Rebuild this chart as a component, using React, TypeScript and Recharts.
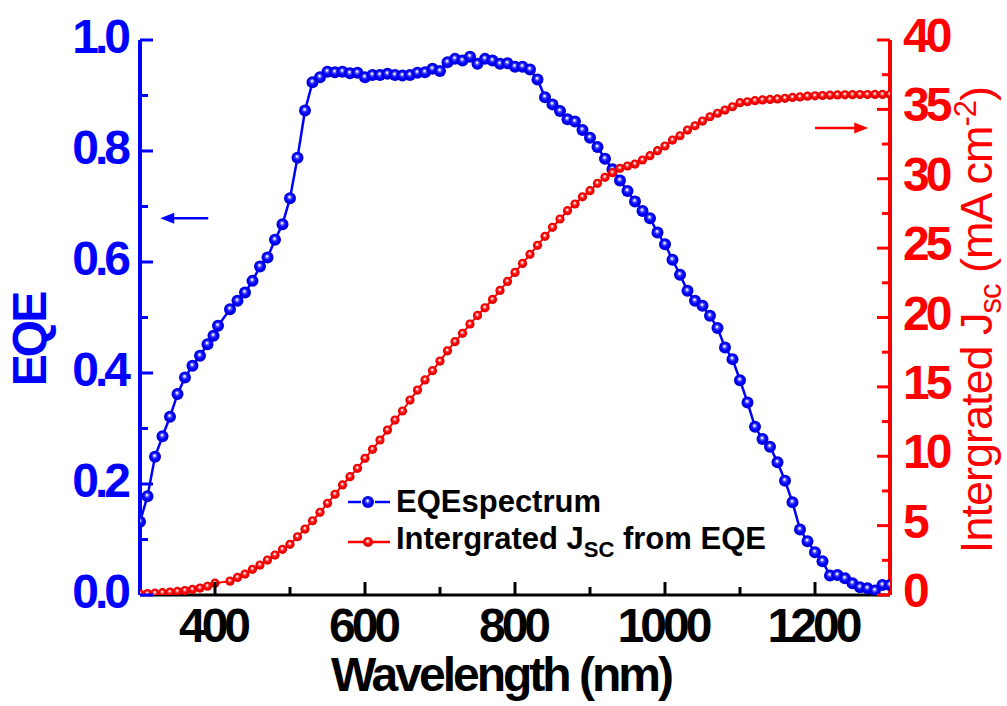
import React from 'react';
import { LineChart, Line, XAxis, YAxis, ReferenceLine, Legend, Label } from 'recharts';

// ---------- data ----------
const eqeWavelengths = [
  300, 310, 320, 330, 340, 350, 360, 370, 380, 390, 398, 404, 420, 430, 440, 450, 460, 470, 480, 490,
  500, 510, 520, 530, 540, 550, 560, 570, 580, 590, 600, 610, 620, 630, 640, 650, 660, 670, 680, 690,
  700, 710, 720, 730, 740, 750, 760, 770, 780, 790, 800, 810, 820, 830, 840, 850, 860, 870, 880, 890,
  900, 910, 920, 930, 940, 950, 960, 970, 980, 990, 1000, 1010, 1020, 1030, 1040, 1050, 1060, 1070, 1080, 1090,
  1100, 1110, 1120, 1130, 1140, 1150, 1160, 1170, 1180, 1190, 1200, 1210, 1220, 1230, 1240, 1250, 1260, 1270, 1280, 1290, 1300,
];
const eqeValues = [
  0.132, 0.178, 0.249, 0.286, 0.321, 0.362, 0.392, 0.413, 0.431, 0.452, 0.467, 0.485, 0.515, 0.530, 0.545, 0.566, 0.592, 0.608, 0.640, 0.668,
  0.715, 0.788, 0.873, 0.924, 0.933, 0.943, 0.942, 0.943, 0.940, 0.941, 0.933, 0.937, 0.937, 0.939, 0.937, 0.936, 0.937, 0.941, 0.942, 0.948,
  0.944, 0.960, 0.966, 0.963, 0.970, 0.957, 0.966, 0.963, 0.957, 0.958, 0.952, 0.952, 0.947, 0.929, 0.897, 0.884, 0.872, 0.857, 0.853, 0.838,
  0.824, 0.807, 0.786, 0.767, 0.747, 0.728, 0.709, 0.692, 0.679, 0.653, 0.632, 0.604, 0.577, 0.548, 0.530, 0.521, 0.503, 0.481, 0.446, 0.425,
  0.387, 0.347, 0.303, 0.281, 0.267, 0.239, 0.206, 0.167, 0.118, 0.097, 0.077, 0.061, 0.035, 0.036, 0.030, 0.021, 0.014, 0.012, 0.008, 0.018, 0.018,
];

const jscWavelengths = [
  300, 310, 320, 330, 340, 350, 360, 370, 380, 390, 400, 420, 430, 440, 450, 460, 470, 480, 490,
  500, 510, 520, 530, 540, 550, 560, 570, 580, 590, 600, 610, 620, 630, 640, 650, 660, 670, 680, 690,
  700, 710, 720, 730, 740, 750, 760, 770, 780, 790, 800, 810, 820, 830, 840, 850, 860, 870, 880, 890,
  900, 910, 920, 930, 940, 950, 960, 970, 980, 990, 1000, 1010, 1020, 1030, 1040, 1050, 1060, 1070, 1080, 1090,
  1100, 1110, 1120, 1130, 1140, 1150, 1160, 1170, 1180, 1190, 1200, 1210, 1220, 1230, 1240, 1250, 1260, 1270, 1280, 1290, 1300,
];
const jscValues = [
  0.08, 0.1, 0.13, 0.17, 0.21, 0.26, 0.32, 0.4, 0.5, 0.63, 0.85, 1.0, 1.27, 1.51, 1.85, 2.16, 2.52, 2.88, 3.29,
  3.65, 4.2, 4.75, 5.35, 5.96, 6.61, 7.26, 7.93, 8.53, 9.13, 9.85, 10.5, 11.17, 11.89, 12.61, 13.26, 14.05, 14.77, 15.5, 16.17,
  16.86, 17.6, 18.26, 18.86, 19.53, 20.15, 20.7, 21.3, 21.95, 22.6, 23.25, 23.9, 24.55, 25.2, 25.85, 26.5, 27.1, 27.7, 28.18, 28.7,
  29.14, 29.67, 30.1, 30.44, 30.75, 30.92, 31.06, 31.35, 31.66, 32.02, 32.36, 32.79, 33.1, 33.51, 33.82, 34.16, 34.47, 34.72, 34.95, 35.19,
  35.48, 35.55, 35.63, 35.68, 35.72, 35.75, 35.8, 35.86, 35.9, 35.95, 35.98, 36.0, 36.02, 36.04, 36.05, 36.06, 36.07, 36.07, 36.08, 36.08, 36.08,
];

const xDomain = [300, 1300];
const xTicks = [400, 500, 600, 700, 800, 900, 1000, 1100, 1200];
const xLabelTicks = [400, 600, 800, 1000, 1200];
const eqeDomain = [0, 1];
const eqeTicks = [0, 0.1, 0.2, 0.3, 0.4, 0.5, 0.6, 0.7, 0.8, 0.9, 1.0];
const eqeLabelTicks = [0, 0.2, 0.4, 0.6, 0.8, 1.0];
const jscDomain = [0, 40];
const jscTicks = [0, 2.5, 5, 7.5, 10, 12.5, 15, 17.5, 20, 22.5, 25, 27.5, 30, 32.5, 35, 37.5, 40];
const jscLabelTicks = [0, 5, 10, 15, 20, 25, 30, 35, 40];

// annotation arrows (data coordinates)
const blueArrow = { from: 391, to: 327, y: 0.679 };
const redArrow = { from: 1200, to: 1271, y: 33.66 };

const eqeData = eqeWavelengths.map((wl, i) => ({ wl, eqe: eqeValues[i] }));
const jscData = jscWavelengths.map((wl, i) => ({ wl, jsc: jscValues[i] }));

// ---------- styles ----------
const FONT = '"Liberation Sans", Arial, Helvetica, sans-serif';
const BLUE = '#0000ff';
const RED = '#ff0000';

const has = (arr: number[], v: number) => arr.some((a) => Math.abs(a - v) < 1e-6);

function LeftTick(props: any) {
  const { x, y, payload } = props;
  const v = payload.value;
  const major = has(eqeLabelTicks, v);
  return (
    <g>
      <line x1={x} x2={x + (major ? 13 : 8)} y1={y} y2={y} stroke={BLUE} strokeWidth={3} />
      {major && (
        <text x={x - 13} y={y + 13} textAnchor="end" fill={BLUE} fontSize={48} fontWeight="bold" letterSpacing={-4} fontFamily={FONT}>
          {v.toFixed(1)}
        </text>
      )}
    </g>
  );
}

function RightTick(props: any) {
  const { x, y, payload } = props;
  const v = payload.value;
  const major = has(jscLabelTicks, v);
  return (
    <g>
      <line x1={x} x2={x - (major ? 13 : 8)} y1={y} y2={y} stroke={RED} strokeWidth={3} />
      {major && (
        <text x={x + 13} y={y + 12} textAnchor="start" fill={RED} fontSize={48} fontWeight="bold" letterSpacing={-4} fontFamily={FONT}>
          {String(v)}
        </text>
      )}
    </g>
  );
}

function BottomTick(props: any) {
  const { x, y, payload } = props;
  const v = payload.value;
  const major = has(xLabelTicks, v);
  return (
    <g>
      <line x1={x} x2={x} y1={y} y2={y - (major ? 13 : 8)} stroke="#000" strokeWidth={3} />
      {major && (
        <text x={x - 2} y={y + 47} textAnchor="middle" fill="#000" fontSize={48} fontWeight="bold" letterSpacing={-4} fontFamily={FONT}>
          {String(v)}
        </text>
      )}
    </g>
  );
}

function TopTick(props: any) {
  const { x, y } = props;
  return <line x1={x} x2={x} y1={y} y2={y + 4} stroke="#000" strokeWidth={2} />;
}

function BlueDot(props: any) {
  const { cx, cy, index } = props;
  if (cx == null || cy == null) return <g key={`b${index}`} />;
  return <circle key={`b${index}`} cx={cx} cy={cy} r={6} fill="url(#sphereBlue)" />;
}

function RedDot(props: any) {
  const { cx, cy, index } = props;
  if (cx == null || cy == null) return <g key={`r${index}`} />;
  return <circle key={`r${index}`} cx={cx} cy={cy} r={4.6} fill="url(#sphereRed)" />;
}

const arrowShape = (color: string) => (p: any) => {
  const { x1, y1, x2, y2 } = p;
  const dir = Math.sign(x2 - x1) || 1;
  return (
    <g>
      <line x1={x1} y1={y1} x2={x2 - dir * 10} y2={y2} stroke={color} strokeWidth={2.5} />
      <polygon points={`${x2},${y2} ${x2 - dir * 14},${y2 - 5.5} ${x2 - dir * 14},${y2 + 5.5}`} fill={color} />
    </g>
  );
};

function LegendContent() {
  const row: React.CSSProperties = { display: 'flex', alignItems: 'center', height: 40, whiteSpace: 'nowrap' };
  return (
    <div style={{ fontFamily: FONT, fontWeight: 'bold', fontSize: 31, color: '#000' }}>
      <div style={row}>
        <svg width={48} height={20} style={{ marginRight: 2 }}>
          <line x1={2} x2={15} y1={10} y2={10} stroke={BLUE} strokeWidth={2.5} />
          <line x1={29} x2={44} y1={10} y2={10} stroke={BLUE} strokeWidth={2.5} />
          <circle cx={22} cy={10} r={6} fill="url(#sphereBlue)" />
        </svg>
        <span>EQEspectrum</span>
      </div>
      <div style={row}>
        <svg width={48} height={20} style={{ marginRight: 2 }}>
          <line x1={2} x2={44} y1={10} y2={10} stroke={RED} strokeWidth={2.5} />
          <circle cx={22} cy={10} r={5} fill="url(#sphereRed)" />
        </svg>
        <span>
          Intergrated J<sub style={{ fontSize: 22, verticalAlign: -8 }}>SC</sub> from EQE
        </span>
      </div>
    </div>
  );
}

export default function App() {
  return (
    <div style={{ position: 'absolute', left: 0, top: 0, width: 1007, height: 706, background: '#fff' }}>
      <svg width={0} height={0} style={{ position: 'absolute' }}>
        <defs>
          <radialGradient id="sphereBlue" cx="50%" cy="50%" r="50%" fx="45%" fy="38%">
            <stop offset="0%" stopColor="#ffffff" />
            <stop offset="14%" stopColor="#d4d4ff" />
            <stop offset="32%" stopColor="#4a4aff" />
            <stop offset="60%" stopColor="#0000ff" />
            <stop offset="100%" stopColor="#0000d0" />
          </radialGradient>
          <radialGradient id="sphereRed" cx="50%" cy="50%" r="50%" fx="45%" fy="38%">
            <stop offset="0%" stopColor="#ffffff" />
            <stop offset="16%" stopColor="#ffd4d4" />
            <stop offset="34%" stopColor="#ff4a4a" />
            <stop offset="60%" stopColor="#ff0000" />
            <stop offset="100%" stopColor="#d80000" />
          </radialGradient>
        </defs>
      </svg>
      <LineChart width={1007} height={706} margin={{ top: 40, right: 0, bottom: 0, left: 0 }} style={{ fontFamily: FONT }}>
        <XAxis
          xAxisId="bottom"
          dataKey="wl"
          type="number"
          domain={xDomain}
          ticks={xTicks}
          allowDataOverflow
          height={111}
          tickSize={0}
          tickMargin={0}
          tickLine={false}
          tick={<BottomTick />}
          axisLine={{ stroke: '#000', strokeWidth: 3 }}
          interval={0}
        >
          <Label
            content={(p: any) => {
              const vb = p.viewBox || { x: 140, y: 595 };
              return (
                <text x={vb.x + 361} y={vb.y + 96} textAnchor="middle" fontSize={48} fontWeight="bold" letterSpacing={-3} fill="#000" fontFamily={FONT}>
                  Wavelength (nm)
                </text>
              );
            }}
          />
        </XAxis>
        <XAxis
          xAxisId="top"
          orientation="top"
          dataKey="wl"
          type="number"
          domain={xDomain}
          ticks={xTicks}
          allowDataOverflow
          height={0}
          tickSize={0}
          tickMargin={0}
          tickLine={false}
          tick={<TopTick />}
          axisLine={{ stroke: '#000', strokeWidth: 2.5 }}
          interval={0}
        />
        <YAxis
          yAxisId="left"
          type="number"
          domain={eqeDomain}
          ticks={eqeTicks}
          allowDataOverflow
          width={140}
          tickSize={0}
          tickMargin={0}
          tickLine={false}
          tick={<LeftTick />}
          axisLine={{ stroke: BLUE, strokeWidth: 4 }}
          interval={0}
        >
          <Label
            content={(p: any) => {
              const vb = p.viewBox || { x: 0, y: 40 };
              const x = vb.x + 46;
              const y = vb.y + 300;
              return (
                <text x={x} y={y} transform={`rotate(-90, ${x}, ${y})`} textAnchor="middle" fontSize={48} fontWeight="bold" letterSpacing={-3} fill={BLUE} fontFamily={FONT}>
                  EQE
                </text>
              );
            }}
          />
        </YAxis>
        <YAxis
          yAxisId="right"
          orientation="right"
          type="number"
          domain={jscDomain}
          ticks={jscTicks}
          allowDataOverflow
          width={117}
          tickSize={0}
          tickMargin={0}
          tickLine={false}
          tick={<RightTick />}
          axisLine={{ stroke: RED, strokeWidth: 4 }}
          interval={0}
        >
          <Label
            content={(p: any) => {
              const vb = p.viewBox || { x: 890, y: 40 };
              const x = vb.x + 102;
              const y = vb.y + 280;
              return (
                <text x={x} y={y} transform={`rotate(-90, ${x}, ${y})`} textAnchor="middle" fontSize={45} letterSpacing={-1} fill={RED} fontFamily={FONT}>
                  Intergrated J<tspan fontSize={31} dy={9}>sc</tspan>
                  <tspan dy={-9}> (mA cm</tspan>
                  <tspan fontSize={31} dy={-16}>-2</tspan>
                  <tspan dy={16}>)</tspan>
                </text>
              );
            }}
          />
        </YAxis>

        <ReferenceLine
          xAxisId="bottom"
          yAxisId="left"
          segment={[{ x: blueArrow.from, y: blueArrow.y }, { x: blueArrow.to, y: blueArrow.y }]}
          shape={arrowShape(BLUE)}
        />
        <ReferenceLine
          xAxisId="bottom"
          yAxisId="right"
          segment={[{ x: redArrow.from, y: redArrow.y }, { x: redArrow.to, y: redArrow.y }]}
          shape={arrowShape(RED)}
        />

        <Line
          xAxisId="bottom"
          yAxisId="left"
          data={eqeData}
          dataKey="eqe"
          type="linear"
          stroke={BLUE}
          strokeWidth={2.5}
          dot={BlueDot}
          activeDot={false}
          isAnimationActive={false}
          name="EQEspectrum"
        />
        <Line
          xAxisId="bottom"
          yAxisId="right"
          data={jscData}
          dataKey="jsc"
          type="linear"
          stroke={RED}
          strokeWidth={2}
          dot={RedDot}
          activeDot={false}
          isAnimationActive={false}
          name="Intergrated Jsc from EQE"
        />
        <Legend
          layout="vertical"
          verticalAlign="middle"
          align="center"
          content={<LegendContent />}
          wrapperStyle={{ left: 346, top: 482, width: 470, height: 80 }}
        />
      </LineChart>
    </div>
  );
}
